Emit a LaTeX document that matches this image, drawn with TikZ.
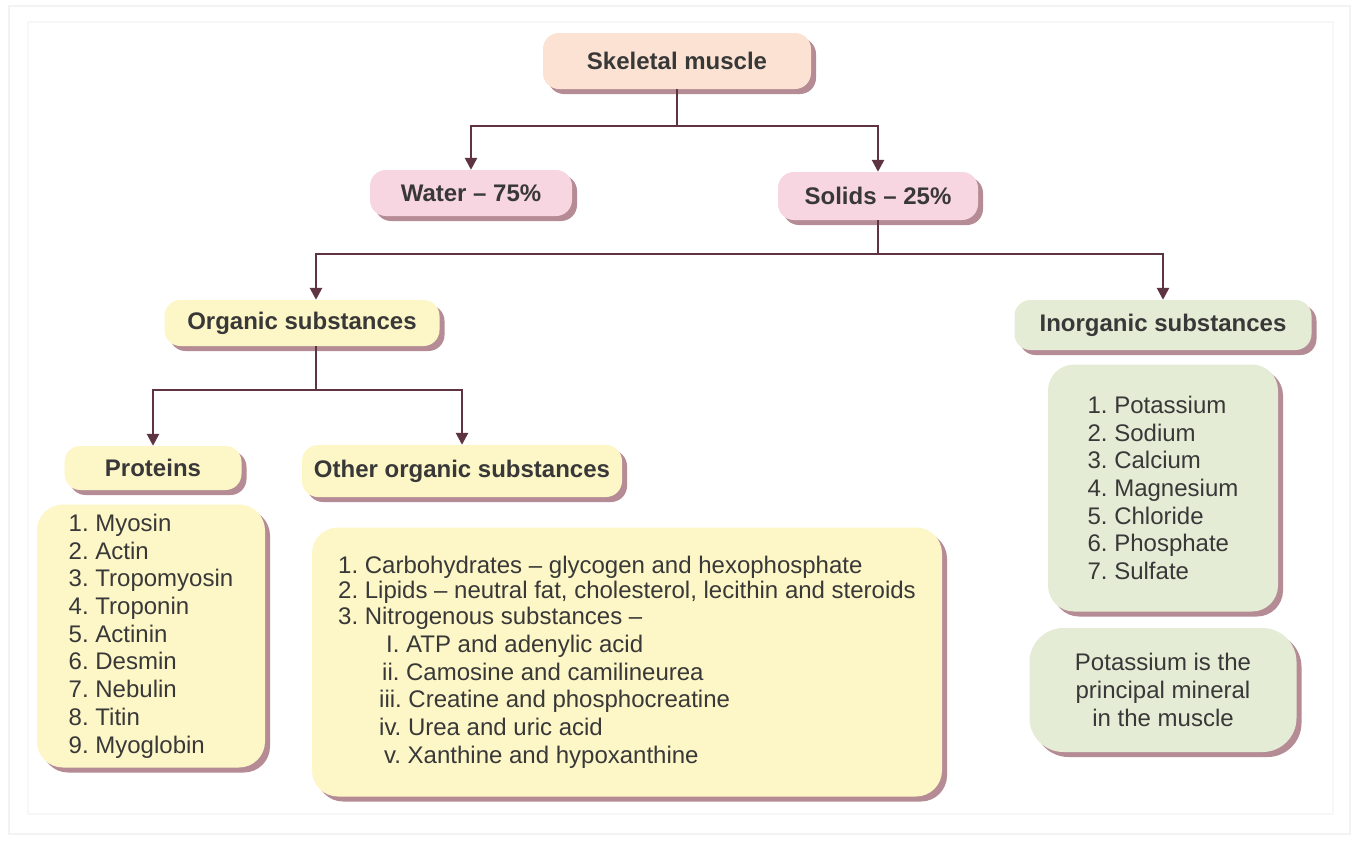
\documentclass[tikz,border=0pt]{standalone}
\usepackage{fontspec}
\setmainfont{Liberation Sans}
\usetikzlibrary{arrows.meta,shadows}
\definecolor{conncol}{HTML}{5E3342}
\definecolor{peach}{HTML}{FBE2D2}
\definecolor{pinkbox}{HTML}{F7D5E1}
\definecolor{yellowbox}{HTML}{FDF6C6}
\definecolor{greenbox}{HTML}{E4ECD5}
\definecolor{shadowcol}{HTML}{84404F}
\definecolor{txtcol}{HTML}{383838}
\definecolor{framecol}{HTML}{F4F2F2}
\definecolor{framecolb}{HTML}{F8F7F7}
\tikzset{
  box/.style={rounded corners=16pt, inner sep=0pt, text=txtcol,
    drop shadow={shadow xshift=5pt, shadow yshift=-5pt, fill=shadowcol, opacity=.6}},
  head/.style={box, font=\fontsize{24}{28}\selectfont\bfseries},
  listbox/.style={box, rounded corners=26pt, align=left, font=\fontsize{24}{27.7}\selectfont\frenchspacing},
  conn/.style={draw=conncol, line width=2.6pt},
  arr/.style={conn, -{Triangle[width=12pt,length=12pt]}}
}
\begin{document}
\frenchspacing
\begin{tikzpicture}[x=1pt,y=-1pt]
\useasboundingbox (0,0) rectangle (1360,844);
\fill[white] (0,0) rectangle (1360,844);
\draw[framecol, line width=2pt] (9,6) rectangle (1350,834);
\draw[framecolb, line width=2pt] (28,22) rectangle (1333,814);

% headings
\node[head, fill=peach, minimum width=268pt, minimum height=56pt] (sk) at (677,61) {Skeletal muscle};
\node[head, fill=pinkbox, minimum width=202pt, minimum height=46pt] (water) at (471,193) {Water -- 75\%};
\node[head, fill=pinkbox, minimum width=200pt, minimum height=48pt] (solids) at (878,196) {Solids -- 25\%};
\node[head, fill=yellowbox, minimum width=275pt, minimum height=46pt] (org) at (302,323) {Organic substances};
\node[head, fill=greenbox, minimum width=297pt, minimum height=50pt] (inorg) at (1163,325) {Inorganic substances};
\node[head, fill=yellowbox, minimum width=177pt, minimum height=44pt] (prot) at (153,468) {Proteins};
\node[head, fill=yellowbox, minimum width=320pt, minimum height=52pt] (other) at (462,471) {Other organic substances};

% lists
\node[listbox, fill=yellowbox, minimum width=228pt, minimum height=263pt] (plist) at (151,636) {%
1. Myosin\\ 2. Actin\\ 3. Tropomyosin\\ 4. Troponin\\ 5. Actinin\\ 6. Desmin\\ 7. Nebulin\\ 8. Titin\\ 9. Myoglobin};
\node[listbox, fill=yellowbox, minimum width=630pt, minimum height=269pt] (olist) at (627,662) {%
1. Carbohydrates -- glycogen and hexophosphate\\[-2pt]
2. Lipids -- neutral fat, cholesterol, lecithin and steroids\\[-2pt]
3. Nitrogenous substances --\\
\hspace*{48pt}I. ATP and adenylic acid\\
\hspace*{44pt}ii. Camosine and camilineurea\\
\hspace*{41pt}iii. Creatine and phosphocreatine\\
\hspace*{41pt}iv. Urea and uric acid\\
\hspace*{46pt}v. Xanthine and hypoxanthine};
\node[listbox, fill=greenbox, minimum width=230pt, minimum height=247pt] (ilist) at (1163,488) {%
1. Potassium\\ 2. Sodium\\ 3. Calcium\\ 4. Magnesium\\ 5. Chloride\\ 6. Phosphate\\ 7. Sulfate};
\node[listbox, fill=greenbox, align=center, rounded corners=34pt, minimum width=267pt, minimum height=124pt] (note) at (1163,690) {%
Potassium is the\\ principal mineral\\ in the muscle};

% connectors
\coordinate (b1) at (677,126);
\coordinate (b2) at (878,254);
\coordinate (b3) at (316,390);
\draw[conn] (sk.south) -- (b1);
\draw[arr] (b1) -| (water.north);
\draw[arr] (b1) -| (solids.north);
\draw[conn] (solids.south) -- (b2);
\draw[arr] (b2) -| (org.north -| b3);
\draw[arr] (b2) -| (inorg.north);
\draw[conn] (org.south -| b3) -- (b3);
\draw[arr] (b3) -| (prot.north);
\draw[arr] (b3) -| (other.north);
\end{tikzpicture}
\end{document}
